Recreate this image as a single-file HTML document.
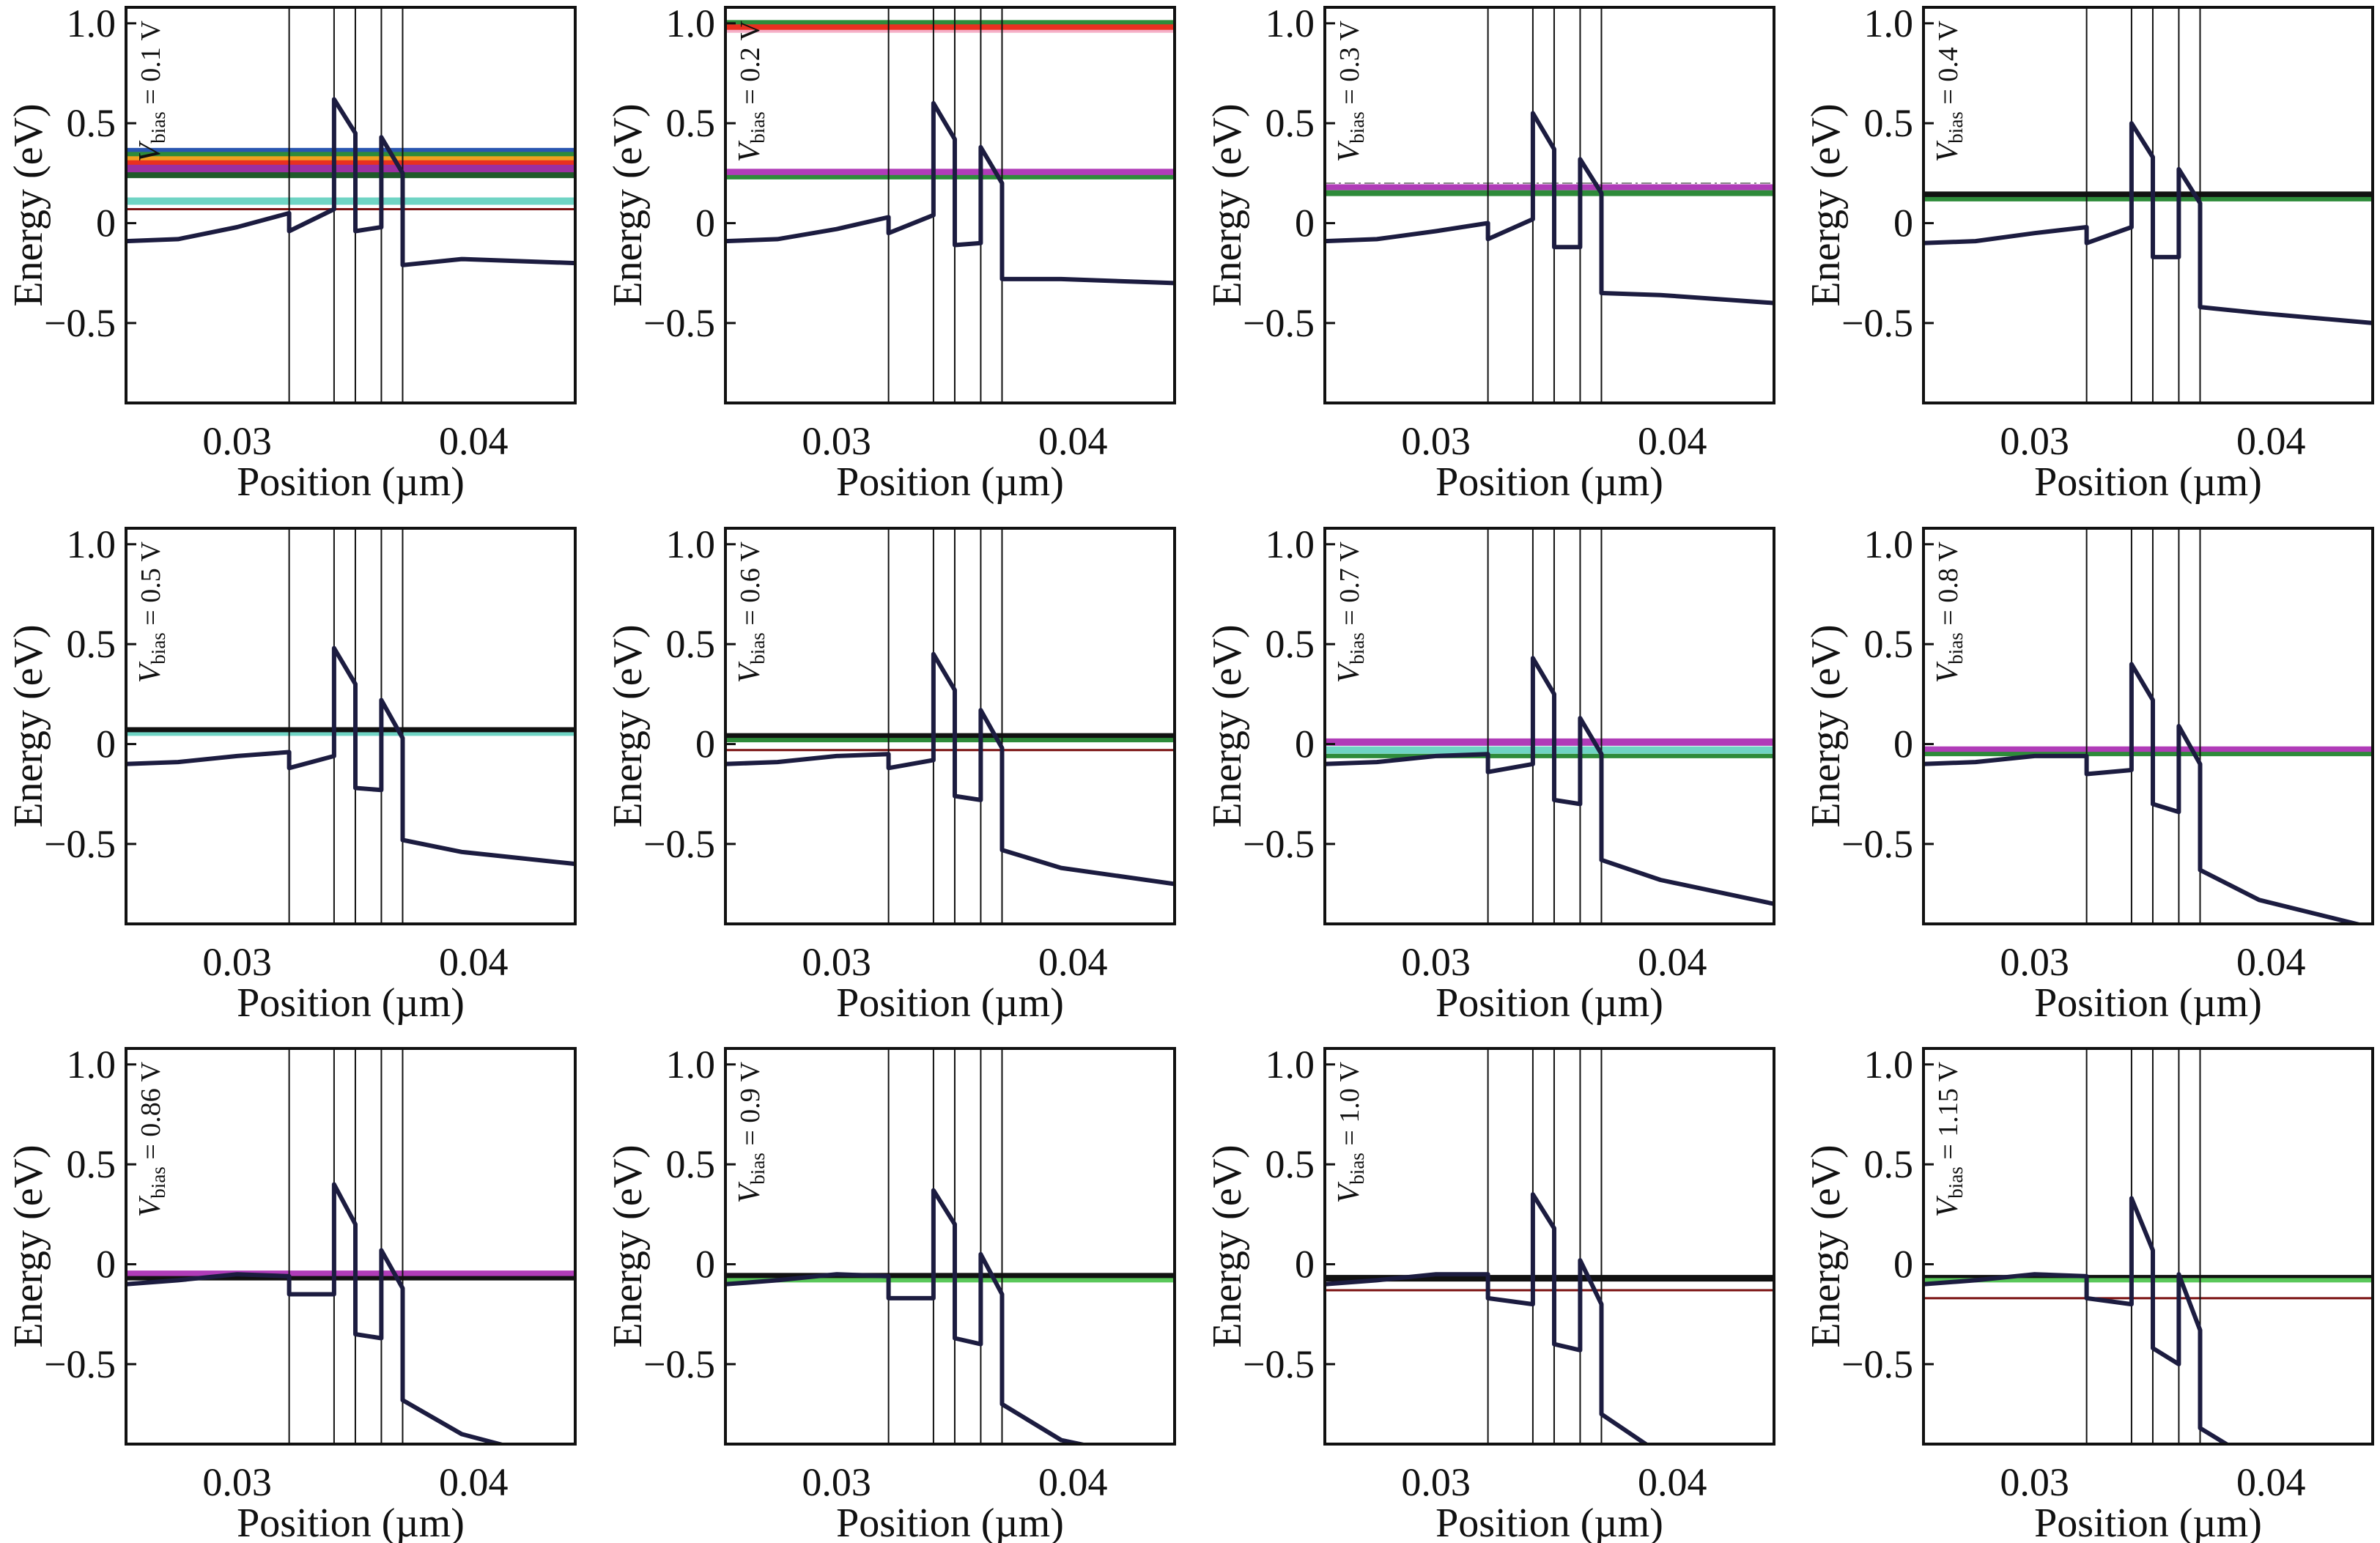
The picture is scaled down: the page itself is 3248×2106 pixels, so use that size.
<!DOCTYPE html>
<html><head><meta charset="utf-8">
<style>
html,body{margin:0;padding:0;background:#fff;}
svg{display:block;}
text{font-family:"Liberation Serif","DejaVu Serif",serif;fill:#111;}
</style></head>
<body>
<svg id="fig" width="3248" height="2106" viewBox="0 0 3248 2106" xmlns="http://www.w3.org/2000/svg"></svg>
<script>
// ---- data ----
const biasLabels = ["0.1","0.2","0.3","0.4","0.5","0.6","0.7","0.8","0.86","0.9","1.0","1.15"];
const keyX = [0.0253,0.0275,0.0300,0.0322,0.0322,0.0341,0.0341,0.0350,0.0350,0.0361,0.0361,0.0370,0.0370,0.0395,0.0443];
const bandE = [
 [-0.09,-0.08,-0.02,0.05,-0.04,0.07,0.62,0.45,-0.04,-0.02,0.43,0.25,-0.21,-0.18,-0.20],
 [-0.09,-0.08,-0.03,0.03,-0.05,0.04,0.60,0.42,-0.11,-0.10,0.38,0.20,-0.28,-0.28,-0.30],
 [-0.09,-0.08,-0.04,0.00,-0.08,0.02,0.55,0.37,-0.12,-0.12,0.32,0.15,-0.35,-0.36,-0.40],
 [-0.10,-0.09,-0.05,-0.02,-0.10,-0.02,0.50,0.33,-0.17,-0.17,0.27,0.10,-0.42,-0.45,-0.50],
 [-0.10,-0.09,-0.06,-0.04,-0.12,-0.06,0.48,0.30,-0.22,-0.23,0.22,0.03,-0.48,-0.54,-0.60],
 [-0.10,-0.09,-0.06,-0.05,-0.12,-0.08,0.45,0.27,-0.26,-0.28,0.17,-0.02,-0.53,-0.62,-0.70],
 [-0.10,-0.09,-0.06,-0.05,-0.14,-0.10,0.43,0.25,-0.28,-0.30,0.13,-0.05,-0.58,-0.68,-0.80],
 [-0.10,-0.09,-0.06,-0.06,-0.15,-0.13,0.40,0.22,-0.30,-0.34,0.09,-0.10,-0.63,-0.78,-0.92],
 [-0.10,-0.08,-0.05,-0.06,-0.15,-0.15,0.40,0.20,-0.35,-0.37,0.07,-0.12,-0.68,-0.85,-1.00],
 [-0.10,-0.08,-0.05,-0.06,-0.17,-0.17,0.37,0.20,-0.37,-0.40,0.05,-0.15,-0.70,-0.88,-1.00],
 [-0.10,-0.08,-0.05,-0.05,-0.17,-0.20,0.35,0.18,-0.40,-0.43,0.02,-0.20,-0.75,-0.95,-1.00],
 [-0.10,-0.08,-0.05,-0.06,-0.17,-0.20,0.33,0.07,-0.42,-0.50,-0.05,-0.33,-0.82,-1.00,-1.00]
];
const fermiE = [
 [0.36,0.34,0.32,0.30,0.27,0.24,0.11,0.07],
 [1.00,0.98,0.96,0.25,0.23],
 [0.20,0.18,0.15],
 [0.14,0.12],
 [0.07,0.05],
 [0.04,0.02,-0.03],
 [0.01,-0.03,-0.06],
 [-0.03,-0.05],
 [-0.05,-0.07],
 [-0.06,-0.08],
 [-0.07,-0.13],
 [-0.07,-0.08,-0.17]
];
const fermiColor = [
 ["#2a56b0","#2e8b3a","#f0a020","#e83020","#9b2fa0","#1f5a2a","#6fd4c4","#7a1010"],
 ["#2e8b3a","#e83020","#f5b0c8","#b03cb8","#2e8b3a"],
 ["#888","#b03cb8","#2e8b3a"],
 ["#111","#2e8b3a"],
 ["#111","#6fd4c4"],
 ["#111","#2e8b3a","#7a1010"],
 ["#b03cb8","#6fd4c4","#2e8b3a"],
 ["#b03cb8","#2e8b3a"],
 ["#b03cb8","#111"],
 ["#111","#5ac85a"],
 ["#111","#7a1010"],
 ["#111","#5ac85a","#7a1010"]
];
const fermiWidth = [
 [9,9,8,8,12,8,10,3],[9,8,4,12,6],[2,8,8],[10,6],[8,5],[8,6,3],[10,10,6],[10,6],[10,6],[9,6],[9,3],[9,6,3]
];
const layerX = [0.0322,0.0341,0.0350,0.0361,0.0370];
const yTicks = [1.0,0.5,0,-0.5];
const yTickLabels = ["1.0","0.5","0","\u22120.5"];
const xTicks = [0.03,0.04];
const xTickLabels = ["0.03","0.04"];
// ---- layout ----
const NS="http://www.w3.org/2000/svg";
const svg=document.getElementById('fig');
const colL=[172,990,1808,2625], rowT=[10,721,1431];
const W=613,H=540, XMIN=0.0253,XMAX=0.0443,YMIN=-0.9,YMAX=1.08;
function mk(tag,attrs,parent){const e=document.createElementNS(NS,tag);for(const k in attrs)e.setAttribute(k,attrs[k]);(parent||svg).appendChild(e);return e;}
let cid=0;
biasLabels.forEach((lab,i)=>{
  const L=colL[i%4], T=rowT[Math.floor(i/4)];
  const sx=v=>L+(v-XMIN)/(XMAX-XMIN)*W;
  const sy=v=>T+(YMAX-v)/(YMAX-YMIN)*H;
  const g=mk('g',{});
  
  
  cid++;
  const cp=mk('clipPath',{id:'c'+cid},g);
  mk('rect',{x:L,y:T,width:W,height:H},cp);
  const inner=mk('g',{'clip-path':'url(#c'+cid+')'},g);
  fermiE[i].forEach((e,j)=>{
    const ln=mk('line',{x1:L,x2:L+W,y1:sy(e),y2:sy(e),stroke:fermiColor[i][j],'stroke-width':fermiWidth[i][j],'stroke-dasharray':fermiWidth[i][j]<=2?'14 5 3 5':'none'},inner);
    
    
  });
  layerX.forEach(x=>{
    const ln=mk('line',{x1:sx(x),x2:sx(x),y1:T,y2:T+H,stroke:'#111','stroke-width':2},inner);
    
    
  });
  const pts=keyX.map((x,k)=>sx(x).toFixed(1)+','+sy(bandE[i][k]).toFixed(1)).join(' ');
  const pl=mk('polyline',{points:pts,fill:'none',stroke:'#1c1c40','stroke-width':6,'stroke-linejoin':'round'},inner);
  
  
  const fr=mk('rect',{x:L,y:T,width:W,height:H,fill:'none',stroke:'#111','stroke-width':4},g);
  
  
  yTicks.forEach((v,k)=>{
    mk('line',{x1:L,x2:L+14,y1:sy(v),y2:sy(v),stroke:'#111','stroke-width':3},g);
    const t=mk('text',{x:L-14,y:sy(v)+18,'text-anchor':'end','font-size':54},g);
    t.textContent=yTickLabels[k];
    
    
  });
  xTicks.forEach((v,k)=>{
    const t=mk('text',{x:sx(v),y:T+H+70,'text-anchor':'middle','font-size':54},g);
    t.textContent=xTickLabels[k];
    
    
  });
  const xt=mk('text',{x:L+W/2,y:T+H+126,'text-anchor':'middle','font-size':56},g);
  xt.textContent='Position (\u00b5m)';
  
  
  const yt=mk('text',{x:0,y:0,'text-anchor':'middle','font-size':56,transform:'translate('+(L-115)+','+(T+H/2)+') rotate(-90)'},g);
  yt.textContent='Energy (eV)';
  
  
  const bl=mk('text',{x:0,y:0,'text-anchor':'end','font-size':38,transform:'translate('+(L+46)+','+(T+18)+') rotate(-90)'},g);
  bl.innerHTML='<tspan font-style="italic" font-size="42">V</tspan><tspan font-size="27" dy="7">bias</tspan><tspan dy="-7"> = '+lab+' V</tspan>';
  
  
});
</script>
</body></html>
